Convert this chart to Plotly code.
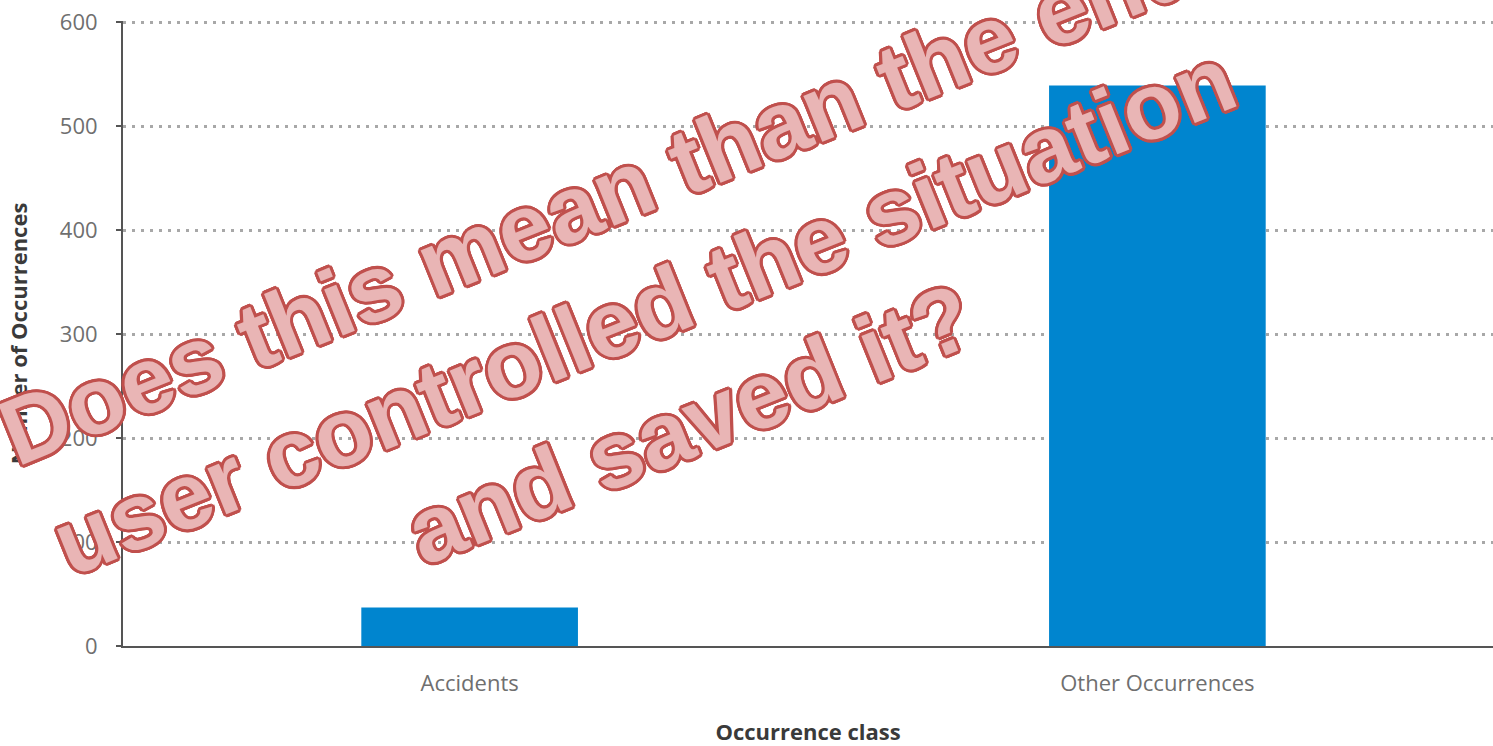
import plotly.graph_objects as go

categories = ["Accidents", "Other Occurrences"]
values = [37, 539]
y_ticks = [0, 100, 200, 300, 400, 500, 600]
overlay_lines = ["Does this mean than the end", "user controlled the situation", "and saved it?"]

fig = go.Figure()
fig.add_trace(go.Bar(
    x=categories, y=values, width=0.315,
    marker=dict(color="#0085cf", line=dict(width=0)),
))

ring = ", ".join(f"{dx}px {dy}px 0 #c0504d" for dx, dy in
                 [(3, 0), (-3, 0), (0, 3), (0, -3), (2, 2), (-2, -2), (2, -2), (-2, 2),
                  (3, 1), (-3, 1), (3, -1), (-3, -1), (1, 3), (1, -3), (-1, 3), (-1, -3)])

fig.add_annotation(
    x=0.38, y=0.537, xref="paper", yref="paper",
    text="<br>".join(overlay_lines), showarrow=False, textangle=-22, align="center",
    font=dict(family="Liberation Sans, Arial", size=94, color="#e9b5b5", weight="bold", shadow=ring),
)

fig.update_layout(
    width=1493, height=746,
    margin=dict(l=123, r=0, t=21, b=100),
    paper_bgcolor="white", plot_bgcolor="white",
    showlegend=False,
    font=dict(family="Open Sans", color="#6f6f6f", size=22),
    xaxis=dict(
        range=[-0.504, 1.488], showgrid=False,
        showline=True, linecolor="#555555", linewidth=2,
        ticks="", tickfont=dict(size=22, color="#6f6f6f"), ticklabelstandoff=17,
        title=dict(text="Occurrence class", font=dict(size=22, color="#3a3a3a", weight="bold"), standoff=33),
    ),
    yaxis=dict(
        range=[0, 601], tickvals=y_ticks,
        showgrid=True, gridcolor="#a8a8a8", gridwidth=2.5, griddash="2.5px,6.5px",
        showline=True, linecolor="#555555", linewidth=2,
        ticks="outside", ticklen=5, tickcolor="#555555", tickwidth=2,
        tickfont=dict(size=22, color="#6f6f6f"), ticklabelstandoff=14,
        zeroline=False,
        title=dict(text="Number of Occurrences", font=dict(size=22, color="#3a3a3a", weight="bold"), standoff=26),
    ),
)

fig.write_html("out.html")
